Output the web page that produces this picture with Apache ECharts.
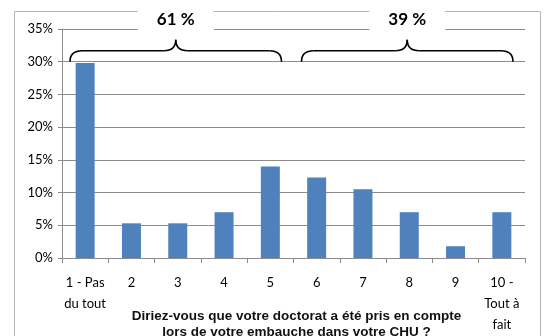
<!DOCTYPE html>
<html>
<head>
<meta charset="utf-8">
<script src="https://cdn.jsdelivr.net/npm/echarts@6/dist/echarts.min.js"></script>
<style>
html,body{margin:0;padding:0;background:#fff;}
#chart{width:546px;height:336px;}
</style>
</head>
<body>
<div id="chart"></div>
<script>
// Score categories (1 = not at all, 10 = completely)
const categories = ['1 - Pas\ndu tout', '2', '3', '4', '5', '6', '7', '8', '9', '10 -\nTout à\nfait'];
// Share of respondents per score, in %
const shares = [29.8, 5.3, 5.3, 7.0, 14.0, 12.3, 10.5, 7.0, 1.8, 7.0];
// Grouped totals shown above the braces
const groupLabels = ['61 %', '39 %'];
const groupRanges = [[0, 4], [5, 9]];
const axisTitle = 'Diriez-vous que votre doctorat a été pris en compte\nlors de votre embauche dans votre CHU ?';

const chart = echarts.init(document.getElementById('chart'));
const gray = '#8c8c8c';
const labelFont = 'Lato, "Open Sans", sans-serif';

chart.setOption({
  animation: false,
  grid: { left: 62, right: 21, top: 29, bottom: 78, outerBoundsMode: 'none', containLabel: false },
  xAxis: {
    type: 'category',
    data: categories,
    axisLine: { lineStyle: { color: gray, width: 1 } },
    axisTick: { show: true, length: 5, lineStyle: { color: gray } },
    axisLabel: {
      interval: 0, margin: 14, color: '#000', fontSize: 13,
      lineHeight: 21, fontFamily: labelFont
    },
    name: axisTitle,
    nameLocation: 'middle',
    nameGap: 50,
    nameMoveOverlap: false,
    nameTextStyle: {
      color: '#111', fontSize: 13.5, fontWeight: 'bold',
      fontFamily: '"Liberation Sans", Arial, sans-serif', lineHeight: 16,
      verticalAlign: 'top', padding: [0, 0, 0, 6]
    }
  },
  yAxis: {
    type: 'value',
    min: 0, max: 35, interval: 5,
    axisLine: { show: true, lineStyle: { color: gray } },
    axisTick: { show: true, length: 4, lineStyle: { color: gray } },
    axisLabel: {
      formatter: '{value}%', color: '#000', fontSize: 13,
      margin: 9, fontFamily: labelFont
    },
    splitLine: { lineStyle: { color: gray, width: 1 } }
  },
  series: [{
    type: 'bar',
    data: shares,
    barCategoryGap: '59%',
    itemStyle: { color: '#4f81bd' }
  }]
});

// Outer frame, braces and group totals placed from the category axis scale
function edgeX(i) {
  const a = chart.convertToPixel({ xAxisIndex: 0 }, 0);
  const b = chart.convertToPixel({ xAxisIndex: 0 }, 1);
  const w = b - a;
  return a - w / 2 + i * w;
}
const yTop = chart.convertToPixel({ yAxisIndex: 0 }, 35);
const y30 = chart.convertToPixel({ yAxisIndex: 0 }, 30);

const graphics = [{
  type: 'rect', z: 0, silent: true,
  shape: { x: 14.5, y: 11.5, width: 526, height: 340 },
  style: { fill: 'none', stroke: '#b5b5b5', lineWidth: 1 }
}];

const braceStyle = { fill: 'none', stroke: '#000', lineWidth: 1.6 };
function curve(x1, y1, cx, cy, x2, y2) {
  return { type: 'bezierCurve', z: 10, silent: true,
    shape: { x1, y1, x2, y2, cpx1: cx, cpy1: cy }, style: braceStyle };
}
function seg(x1, y1, x2, y2) {
  return { type: 'line', z: 10, silent: true,
    shape: { x1, y1, x2, y2 }, style: braceStyle };
}

groupRanges.forEach((r, k) => {
  const x0 = edgeX(r[0]) + 8;
  const x1 = edgeX(r[1] + 1) - 12;
  const xm = (edgeX(r[0]) + edgeX(r[1] + 1)) / 2 - 2;
  const yEnd = y30;
  const yBar = y30 - 11;
  const yTip = y30 - 22;
  graphics.push(curve(x0, yEnd, x0, yBar, x0 + 12, yBar));
  graphics.push(seg(x0 + 12, yBar, xm - 12, yBar));
  graphics.push(curve(xm - 12, yBar, xm, yBar, xm, yTip));
  graphics.push(curve(xm, yTip, xm, yBar, xm + 12, yBar));
  graphics.push(seg(xm + 12, yBar, x1 - 12, yBar));
  graphics.push(curve(x1 - 12, yBar, x1, yBar, x1, yEnd));
  graphics.push({
    type: 'rect', z: 10, silent: true,
    shape: { x: xm - 38, y: 6, width: 76, height: yTop - 2 },
    style: { fill: '#fff' }
  });
  graphics.push({
    type: 'text', z: 11, silent: true,
    x: xm, y: 20,
    style: {
      text: groupLabels[k], fill: '#000', font: 'bold 17px Lato, "Open Sans", sans-serif',
      align: 'center', verticalAlign: 'middle'
    }
  });
});

chart.setOption({ graphic: graphics });
</script>
</body>
</html>
